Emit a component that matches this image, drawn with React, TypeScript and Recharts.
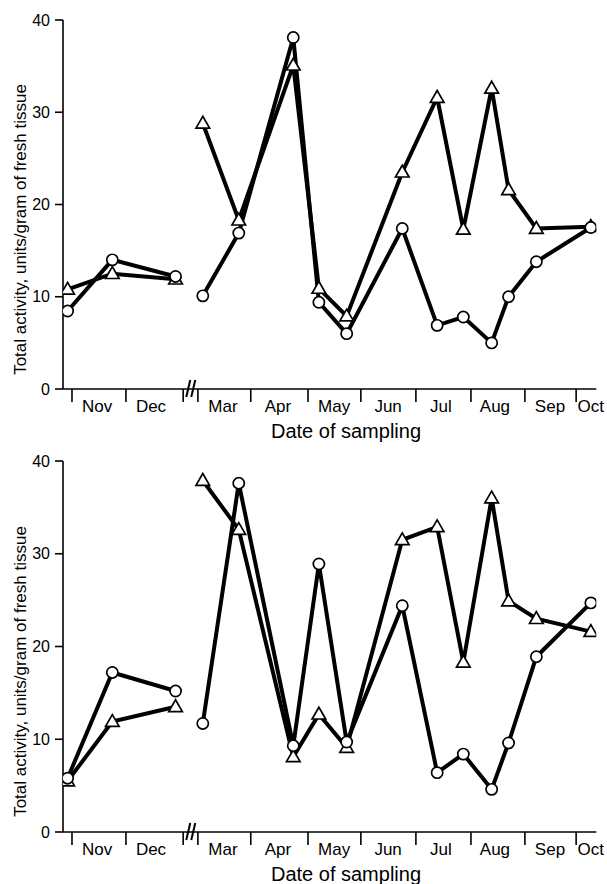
import React from 'react';
import { LineChart, Line, XAxis, YAxis, ReferenceDot, Label } from 'recharts';

// Sampling dates expressed in "month units" along the (broken) time axis: Nov start = 0
const samplingPositions = [-0.08, 0.74, 1.9, 2.4, 3.06, 4.06, 4.53, 5.04, 6.06, 6.7, 7.18, 7.7, 8.01, 8.52, 9.52];
const breakPosition = 2.17;
const breakAfterIndex = 2;
const monthBoundaries = [0, 0.99, 2.04, 2.31, 3.28, 4.33, 5.3, 6.31, 7.32, 8.31, 9.25];
const monthLabels = ['Nov', 'Dec', 'Mar', 'Apr', 'May', 'Jun', 'Jul', 'Aug', 'Sep', 'Oct'];
const monthLabelPositions = [0.46, 1.45, 2.77, 3.78, 4.81, 5.8, 6.77, 7.76, 8.77, 9.52];
const yTicks = [0, 10, 20, 30, 40];

const topTriangle = [10.8, 12.5, 11.9, 28.8, 18.3, 35.1, 10.9, 7.9, 23.5, 31.6, 17.3, 32.6, 21.6, 17.4, 17.6];
const topCircle = [8.45, 14.0, 12.2, 10.1, 16.9, 38.1, 9.4, 6.0, 17.4, 6.9, 7.8, 5.0, 10.0, 13.8, 17.5];
const bottomTriangle = [5.5, 11.9, 13.5, 37.9, 32.6, 8.1, 12.7, 9.1, 31.5, 32.9, 18.3, 36.0, 24.9, 23.0, 21.6];
const bottomCircle = [5.8, 17.2, 15.2, 11.7, 37.6, 9.3, 28.9, 9.7, 24.4, 6.4, 8.4, 4.6, 9.6, 18.9, 24.7];

const yTitle = 'Total activity, units/gram of fresh tissue';
const xTitle = 'Date of sampling';
const FONT = '"Liberation Sans", Arial, Helvetica, sans-serif';

function buildRows(tri: number[], cir: number[]) {
  const rows: { x: number; tri: number | null; cir: number | null }[] = [];
  samplingPositions.forEach((x, i) => {
    rows.push({ x, tri: tri[i], cir: cir[i] });
    if (i === breakAfterIndex) rows.push({ x: breakPosition, tri: null, cir: null });
  });
  return rows;
}

const xTickValues = [...monthBoundaries, ...monthLabelPositions].sort((a, b) => a - b);

const XTick = (props: any) => {
  const { x, y, payload } = props;
  const v = payload?.value;
  const li = monthLabelPositions.indexOf(v);
  if (li >= 0) {
    return (
      <text x={x} y={y + 17} textAnchor="middle" dominantBaseline="central" fontSize={17} fontFamily={FONT} fill="#000">
        {monthLabels[li]}
      </text>
    );
  }
  return <line x1={x} y1={y} x2={x} y2={y + 13} stroke="#000" strokeWidth={1.6} />;
};

const TriangleDot = (props: any) => {
  const { cx, cy } = props;
  if (cx == null || cy == null || isNaN(cx) || isNaN(cy)) return <g />;
  const pts = `${cx},${cy - 7} ${cx - 6.8},${cy + 4.8} ${cx + 6.8},${cy + 4.8}`;
  return <polygon points={pts} fill="#fff" stroke="#000" strokeWidth={1.7} strokeLinejoin="miter" />;
};

const CircleDot = (props: any) => {
  const { cx, cy } = props;
  if (cx == null || cy == null || isNaN(cx) || isNaN(cy)) return <g />;
  return <circle cx={cx} cy={cy} r={5.6} fill="#fff" stroke="#000" strokeWidth={1.7} />;
};

const BreakMark = (props: any) => {
  const { cx, cy } = props;
  if (cx == null || cy == null) return <g />;
  return (
    <g>
      <line x1={cx - 4} y1={cy + 8} x2={cx} y2={cy - 9} stroke="#000" strokeWidth={2} />
      <line x1={cx + 1} y1={cy + 8} x2={cx + 5} y2={cy - 9} stroke="#000" strokeWidth={2} />
    </g>
  );
};

type PanelProps = { tri: number[]; cir: number[]; top: number; xAxisHeight: number };

const Panel = ({ tri, cir, top, xAxisHeight }: PanelProps) => {
  const data = buildRows(tri, cir);
  return (
    <LineChart width={607} height={442} data={data} margin={{ top, right: 10.7, left: 8, bottom: 0 }}>
      <XAxis
        type="number"
        dataKey="x"
        domain={[-0.165, 9.62]}
        ticks={xTickValues}
        interval={0}
        tickSize={0}
        tickMargin={0}
        tickLine={false}
        tick={<XTick />}
        axisLine={{ stroke: '#000', strokeWidth: 1.6 }}
        height={xAxisHeight}
        allowDataOverflow
      >
        <Label
          content={(p: any) => {
            const vb = p.viewBox || {};
            return (
              <text x={346} y={(vb.y ?? 0) + 42} textAnchor="middle" dominantBaseline="central" fontSize={20} fontFamily={FONT} fill="#000">
                {xTitle}
              </text>
            );
          }}
        />
      </XAxis>
      <YAxis
        type="number"
        domain={[0, 40]}
        ticks={yTicks}
        interval={0}
        width={55}
        tickSize={8}
        tickMargin={5}
        tick={{ fontSize: 16, fontFamily: FONT, fill: '#000' }}
        tickLine={{ stroke: '#000', strokeWidth: 1.6 }}
        axisLine={{ stroke: '#000', strokeWidth: 1.6 }}
      >
        <Label
          content={() => (
            <text
              x={20}
              y={229.5}
              transform="rotate(-90 20 229.5)"
              textAnchor="middle"
              dominantBaseline="central"
              fontSize={17}
              fontFamily={FONT}
              fill="#000"
            >
              {yTitle}
            </text>
          )}
        />
      </YAxis>
      <ReferenceDot x={breakPosition} y={0} r={0} shape={<BreakMark />} ifOverflow="visible" />
      <Line
        type="linear"
        dataKey="tri"
        stroke="#000"
        strokeWidth={4}
        dot={<TriangleDot />}
        activeDot={false}
        isAnimationActive={false}
        connectNulls={false}
      />
      <Line
        type="linear"
        dataKey="cir"
        stroke="#000"
        strokeWidth={4}
        dot={<CircleDot />}
        activeDot={false}
        isAnimationActive={false}
        connectNulls={false}
      />
    </LineChart>
  );
};

export default function App() {
  return (
    <div style={{ position: 'absolute', left: 0, top: 0, width: 607, height: 884, background: '#fff' }}>
      <Panel tri={topTriangle} cir={topCircle} top={20} xAxisHeight={53} />
      <Panel tri={bottomTriangle} cir={bottomCircle} top={19} xAxisHeight={52} />
    </div>
  );
}
